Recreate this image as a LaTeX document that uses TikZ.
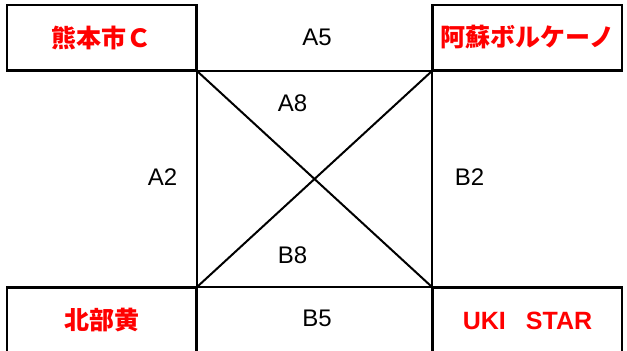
\documentclass[tikz,border=0pt]{standalone}
\usepackage{fontspec}
\setmainfont{Liberation Sans}
\newfontfamily\jpfont{Noto Sans CJK JP}
\begin{document}
\begin{tikzpicture}[x=1pt,y=-1pt,
    team/.style={draw,line width=2pt,minimum width=189pt,minimum height=65pt,inner sep=0pt,
      text=red,font=\jpfont\bfseries\fontsize{25}{25}\selectfont},
    game/.style={inner sep=0pt,font=\fontsize{24}{24}\selectfont}]
      \clip (0,0) rectangle (627,351) ;
      \node[team] (K) at (101.5,37.5) {熊本市Ｃ} ;
      \node[team] (V) at (527.5,37.5) {阿蘇ボルケーノ} ;
      \node[team] (H) at (101.5,320.5) {北部黄} ;
      \node[team,font=\bfseries\fontsize{25}{25}\selectfont] (U) at (527.5,320.5) {UKI\hspace{0.8em}STAR} ;
      \draw[line width=2pt] (K.south west)--(V.south east) ;
      \draw[line width=2pt] (H.north west)--(U.north east) ;
      \draw[line width=2pt] (K.north east)--(H.south east) ;
      \draw[line width=2pt] (V.north west)--(U.south west) ;
      \draw[line width=2pt] (K.south east)--(U.north west) ;
      \draw[line width=2pt] (V.south west)--(H.north east) ;
      \node[game] (A5) at (317,37) {A5} ;
      \node[game] (A8) at (292.5,103.5) {A8} ;
      \node[game] (A2) at (162.5,177.5) {A2} ;
      \node[game] (B2) at (469.5,177.5) {B2} ;
      \node[game] (B8) at (292.5,255) {B8} ;
      \node[game] (B5) at (317,318.5) {B5} ;
\end{tikzpicture}
\end{document}
